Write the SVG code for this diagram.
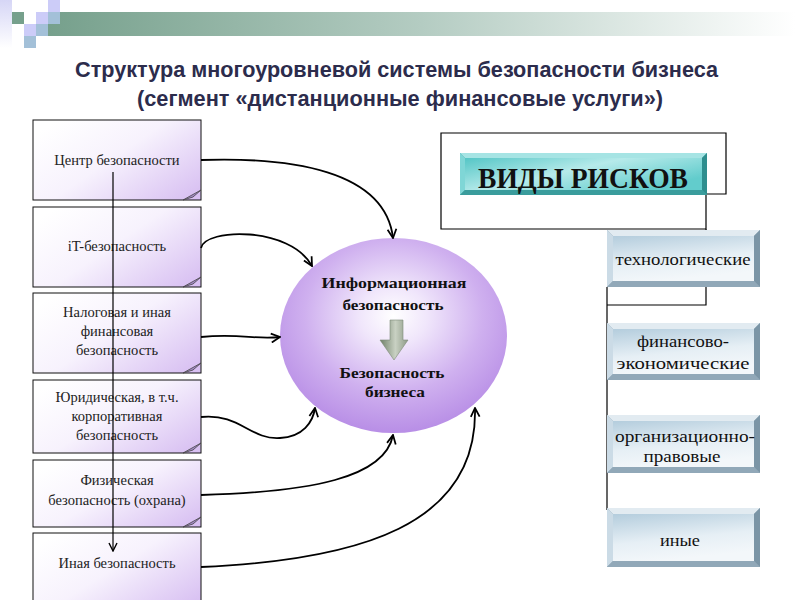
<svg xmlns="http://www.w3.org/2000/svg" width="800" height="600" viewBox="0 0 800 600">
<defs>
<linearGradient id="bar" gradientUnits="userSpaceOnUse" x1="48" y1="0" x2="795" y2="0">
<stop offset="0" stop-color="#76a08c"/><stop offset="0.5" stop-color="#b4ccc2"/><stop offset="1" stop-color="#ffffff"/>
</linearGradient>
<linearGradient id="lav" x1="0" y1="0" x2="0" y2="1">
<stop offset="0" stop-color="#d6d6f6"/><stop offset="1" stop-color="#ffffff"/>
</linearGradient>
<linearGradient id="note" x1="0" y1="0.2" x2="1" y2="0.9">
<stop offset="0" stop-color="#ffffff"/><stop offset="0.45" stop-color="#f7f2fd"/><stop offset="1" stop-color="#d8c0f2"/>
</linearGradient>
<radialGradient id="ell" cx="0.5" cy="0.4" r="0.6">
<stop offset="0" stop-color="#ffffff"/><stop offset="0.25" stop-color="#f0e6fb"/><stop offset="0.65" stop-color="#cfb0ef"/><stop offset="1" stop-color="#b88ee6"/>
</radialGradient>
<linearGradient id="barrow" x1="0" y1="0" x2="1" y2="0">
<stop offset="0" stop-color="#6f8068"/><stop offset="0.55" stop-color="#c9d1c3"/><stop offset="1" stop-color="#8d9a86"/>
</linearGradient>
<linearGradient id="face" x1="0" y1="0" x2="0.3" y2="1">
<stop offset="0" stop-color="#b4cddd"/><stop offset="0.6" stop-color="#e6eff5"/><stop offset="1" stop-color="#f3f7fa"/>
</linearGradient>
<linearGradient id="teal" x1="0" y1="0" x2="1" y2="0.6">
<stop offset="0" stop-color="#55c6c6"/><stop offset="0.5" stop-color="#b6eaea"/><stop offset="1" stop-color="#62cccc"/>
</linearGradient>
<marker id="v" viewBox="0 0 10 10" refX="9" refY="5" markerWidth="11" markerHeight="11" markerUnits="userSpaceOnUse" orient="auto">
<path d="M1,1 L9,5 L1,9" fill="none" stroke="#000" stroke-width="1.6"/>
</marker>
<marker id="v2" viewBox="0 0 10 10" refX="9" refY="5" markerWidth="10" markerHeight="10" markerUnits="userSpaceOnUse" orient="auto">
<path d="M1,1 L9,5 L1,9" fill="none" stroke="#000" stroke-width="1.4"/>
</marker>
</defs>
<style>
.title{font-family:"Liberation Sans Narrow","Liberation Sans",Arial,sans-serif;font-weight:bold;font-size:22.5px;fill:#2c2c4c;text-anchor:middle}
.note{fill:url(#note);stroke:#111;stroke-width:1}
.fold{fill:#a58cc8;stroke:#444;stroke-width:0.8}
.nt{font-family:"Liberation Serif","Times New Roman",serif;font-size:14.5px;fill:#222;text-anchor:middle}
.et{font-family:"Liberation Serif","Times New Roman",serif;font-weight:bold;font-size:15px;fill:#111;text-anchor:middle}
.rt{font-family:"Liberation Serif","Times New Roman",serif;font-size:16px;fill:#111;text-anchor:middle}
.conn path{fill:none;stroke:#000;stroke-width:1.8;marker-end:url(#v)}
.org{fill:none;stroke:#000;stroke-width:1.2}
</style>
<rect width="800" height="600" fill="#fff"/>
<g id="header">
<rect x="0" y="0" width="12" height="48" fill="url(#lav)"/>
<rect x="48" y="0" width="12" height="12" fill="#ccccf8"/>
<rect x="12" y="12" width="12" height="12" fill="#76a08c"/>
<rect x="36" y="12" width="12" height="12" fill="#ccccf8"/>
<rect x="48" y="12" width="12" height="12" fill="#a3c0d8"/>
<rect x="60" y="12" width="740" height="12" fill="url(#bar)"/>
<rect x="24" y="24" width="12" height="12" fill="#ccccf8"/>
<rect x="36" y="24" width="12" height="12" fill="#a3c0d8"/>
<rect x="48" y="24" width="752" height="12" fill="url(#bar)"/>
<rect x="24" y="36" width="12" height="12" fill="#a3c0d8"/>
</g>
<g id="title">
<text class="title" x="396.5" y="77" textLength="643" lengthAdjust="spacingAndGlyphs">Структура многоуровневой системы безопасности бизнеса</text>
<text class="title" x="400" y="106" textLength="526" lengthAdjust="spacingAndGlyphs">(сегмент «дистанционные финансовые услуги»)</text>
</g>
<g id="org-lines">
<polygon class="org" points="441,133 726,133 726,194 706,194 706,229 441,229"/>
<polyline class="org" points="706,229 706,305 607,305"/>
<line class="org" x1="607" y1="287" x2="607" y2="510"/>
</g>
<g id="n1"><rect class="note" x="33" y="120" width="168" height="80"/><polygon class="fold" points="183,200 201,190 193,197"/><text class="nt" x="117" y="165">Центр безопасности</text></g>
<g id="n2"><rect class="note" x="33" y="207" width="168" height="80"/><polygon class="fold" points="183,287 201,277 193,284"/><text class="nt" x="117" y="251">iT-безопасность</text></g>
<g id="n3"><rect class="note" x="33" y="293" width="168" height="80"/><polygon class="fold" points="183,373 201,363 193,370"/><text class="nt" x="117" y="317">Налоговая и иная</text><text class="nt" x="117" y="336">финансовая</text><text class="nt" x="117" y="355">безопасность</text></g>
<g id="n4"><rect class="note" x="33" y="380" width="168" height="73"/><polygon class="fold" points="183,453 201,443 193,450"/><text class="nt" x="117" y="402">Юридическая, в т.ч.</text><text class="nt" x="117" y="421">корпоративная</text><text class="nt" x="117" y="440">безопасность</text></g>
<g id="n5"><rect class="note" x="33" y="460" width="168" height="67"/><polygon class="fold" points="183,527 201,517 193,524"/><text class="nt" x="117" y="485">Физическая</text><text class="nt" x="117" y="505">безопасность (охрана)</text></g>
<g id="n6"><rect class="note" x="33" y="533" width="168" height="75"/><text class="nt" x="117" y="568">Иная безопасность</text></g>
<g id="vline"><path d="M113,172 L113,551" fill="none" stroke="#000" stroke-width="1.2" marker-end="url(#v2)"/></g>
<g id="center">
<ellipse cx="393.5" cy="335.5" rx="113.5" ry="97.5" fill="url(#ell)"/>
<text class="et" x="394" y="288" textLength="145" lengthAdjust="spacingAndGlyphs">Информационная</text>
<text class="et" x="393" y="310" textLength="101" lengthAdjust="spacingAndGlyphs">безопасность</text>
<polygon points="390,320 403,320 403,340 408,340 394,360 380,340 390,340" fill="url(#barrow)" stroke="#7d8a78" stroke-width="0.6"/>
<text class="et" x="392" y="378" textLength="105" lengthAdjust="spacingAndGlyphs">Безопасность</text>
<text class="et" x="395" y="397" textLength="60" lengthAdjust="spacingAndGlyphs">бизнеса</text>
</g>
<g id="connectors" class="conn">
<path d="M201,160 C290,157 385,170 393,238"/>
<path d="M201,248 C205,228 290,226 312,266"/>
<path d="M201,337 C240,333 255,340 280,337"/>
<path d="M201,417 C240,413 250,440 280,438 C303,437 313,422 315,408"/>
<path d="M201,495 C310,492 385,478 393,435"/>
<path d="M201,567 C360,560 478,525 475,408"/>
</g>
<g id="risks">
<rect x="460" y="153" width="247" height="42" fill="#3fa8a8"/>
<polygon points="460,153 707,153 702,158 465,158" fill="#a6e4e4"/>
<polygon points="460,153 465,158 465,190 460,195" fill="#7fd6d6"/>
<polygon points="707,153 707,195 702,190 702,158" fill="#2e8e8e"/>
<polygon points="460,195 707,195 702,190 465,190" fill="#3a9c9c"/>
<rect x="465" y="158" width="237" height="32" fill="url(#teal)"/>
<text x="583" y="188" font-family="'Liberation Serif','Times New Roman',serif" font-weight="bold" font-size="29" fill="#111" text-anchor="middle" textLength="210" lengthAdjust="spacingAndGlyphs">ВИДЫ РИСКОВ</text>
</g>
<g id="r1">
<rect x="607" y="230" width="153" height="57" fill="#8aa2b2"/>
<polygon points="607,230 760,230 754,236 613,236" fill="#e2ebf1"/>
<polygon points="607,230 613,236 613,281 607,287" fill="#cbdbe6"/>
<polygon points="760,230 760,287 754,281 754,236" fill="#7b95a6"/>
<polygon points="607,287 760,287 754,281 613,281" fill="#91a8b8"/>
<rect x="613" y="236" width="141" height="45" fill="url(#face)"/>
<text class="rt" x="683" y="265" textLength="135" lengthAdjust="spacingAndGlyphs">технологические</text>
</g>
<g id="r2">
<rect x="607" y="323" width="153" height="57" fill="#8aa2b2"/>
<polygon points="607,323 760,323 754,329 613,329" fill="#e2ebf1"/>
<polygon points="607,323 613,329 613,374 607,380" fill="#cbdbe6"/>
<polygon points="760,323 760,380 754,374 754,329" fill="#7b95a6"/>
<polygon points="607,380 760,380 754,374 613,374" fill="#91a8b8"/>
<rect x="613" y="329" width="141" height="45" fill="url(#face)"/>
<text class="rt" x="683" y="347" textLength="92" lengthAdjust="spacingAndGlyphs">финансово-</text>
<text class="rt" x="683" y="369" textLength="133" lengthAdjust="spacingAndGlyphs">экономические</text>
</g>
<g id="r3">
<rect x="607" y="415" width="153" height="58" fill="#8aa2b2"/>
<polygon points="607,415 760,415 754,421 613,421" fill="#e2ebf1"/>
<polygon points="607,415 613,421 613,467 607,473" fill="#cbdbe6"/>
<polygon points="760,415 760,473 754,467 754,421" fill="#7b95a6"/>
<polygon points="607,473 760,473 754,467 613,467" fill="#91a8b8"/>
<rect x="613" y="421" width="141" height="46" fill="url(#face)"/>
<text class="rt" x="685" y="442" textLength="140" lengthAdjust="spacingAndGlyphs">организационно-</text>
<text class="rt" x="682" y="462" textLength="77" lengthAdjust="spacingAndGlyphs">правовые</text>
</g>
<g id="r4">
<rect x="607" y="508" width="153" height="59" fill="#8aa2b2"/>
<polygon points="607,508 760,508 754,514 613,514" fill="#e2ebf1"/>
<polygon points="607,508 613,514 613,561 607,567" fill="#cbdbe6"/>
<polygon points="760,508 760,567 754,561 754,514" fill="#7b95a6"/>
<polygon points="607,567 760,567 754,561 613,561" fill="#91a8b8"/>
<rect x="613" y="514" width="141" height="47" fill="url(#face)"/>
<text class="rt" x="680" y="546" textLength="40" lengthAdjust="spacingAndGlyphs">иные</text>
</g>
</svg>
